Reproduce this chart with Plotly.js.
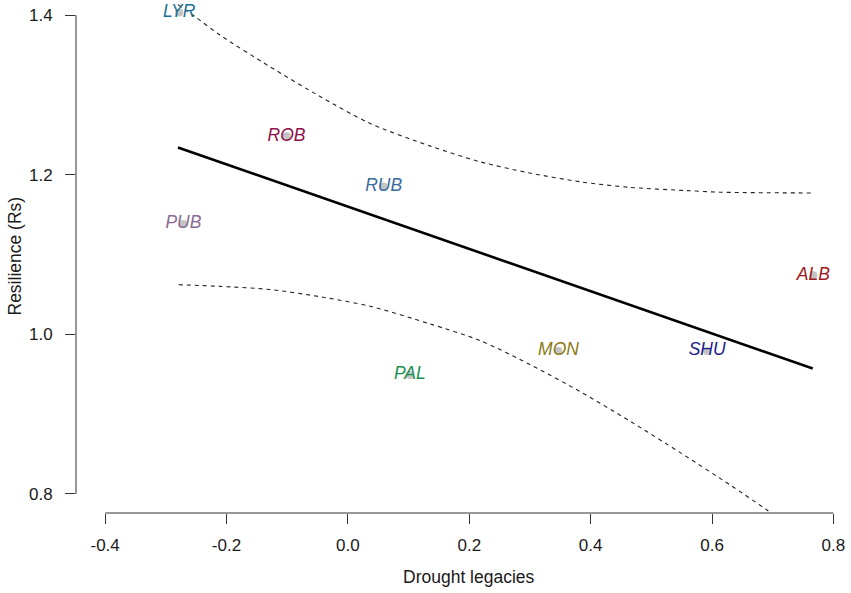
<!DOCTYPE html>
<html>
<head>
<meta charset="utf-8">
<script src="https://cdn.plot.ly/plotly-3.0.1.min.js"></script>
<style>
  html, body { margin: 0; padding: 0; background: #fff; }
  #myDiv { width: 851px; height: 593px; }
</style>
</head>
<body>
<div id="myDiv"></div>
<script>
// sites and their values
var sites = ['LYR', 'ROB', 'RUB', 'PUB', 'ALB', 'PAL', 'MON', 'SHU'];
var legacy = [-0.278, -0.101, 0.059, -0.271, 0.767, 0.102, 0.347, 0.592];
var resilience = [1.403, 1.248, 1.185, 1.138, 1.074, 0.949, 0.979, 0.979];
var siteColors = ['#1b6f96', '#8e1049', '#3a6b9e', '#8a6a92', '#9e1a1a', '#1a9050', '#8a7a10', '#1c1c8c'];

// fitted line
var fitX = [-0.280, 0.766];
var fitY = [1.234, 0.957];

// confidence band
var upperX = [-0.280, -0.252, -0.211, -0.128, -0.046, 0.037, 0.135, 0.218, 0.300, 0.383, 0.465, 0.558, 0.613, 0.766];
var upperY = [1.413, 1.398, 1.375, 1.335, 1.298, 1.264, 1.236, 1.216, 1.202, 1.191, 1.184, 1.180, 1.178, 1.177];
var lowerX = [-0.279, -0.211, -0.128, -0.046, 0.037, 0.135, 0.218, 0.300, 0.383, 0.465, 0.547, 0.630, 0.690, 0.766];
var lowerY = [1.062, 1.060, 1.056, 1.047, 1.035, 1.013, 0.992, 0.962, 0.928, 0.891, 0.852, 0.811, 0.780, 0.739];

var xTicks = [-0.4, -0.2, 0.0, 0.2, 0.4, 0.6, 0.8];
var yTicks = [0.8, 1.0, 1.2, 1.4];

var font = 'Liberation Sans, Arial, sans-serif';

var upper = {
    x: upperX, y: upperY, mode: 'lines', type: 'scatter',
    line: {color: '#222', width: 1.1, dash: '4px,4px', shape: 'spline', smoothing: 0.8},
    hoverinfo: 'skip'
};
var lower = {
    x: lowerX, y: lowerY, mode: 'lines', type: 'scatter',
    line: {color: '#222', width: 1.1, dash: '4px,4px', shape: 'spline', smoothing: 0.8},
    hoverinfo: 'skip'
};
var fit = {
    x: fitX, y: fitY, mode: 'lines', type: 'scatter',
    line: {color: '#000', width: 2.6}
};
var dots = {
    x: legacy, y: resilience, mode: 'markers', type: 'scatter',
    marker: {color: '#c4c4c4', size: 8},
    cliponaxis: false
};
var labels = {
    x: legacy, y: resilience, text: sites, mode: 'text', type: 'scatter',
    textposition: 'middle center',
    textfont: {family: font, size: 17.5, style: 'italic', color: siteColors},
    cliponaxis: false
};

var data = [upper, lower, fit, dots, labels];

var layout = {
    width: 851,
    height: 593,
    showlegend: false,
    margin: {l: 76, r: 0, t: 0, b: 80},
    paper_bgcolor: '#fff',
    plot_bgcolor: '#fff',
    font: {family: font, size: 17, color: '#1a1a1a'},
    xaxis: {
        range: [-0.448, 0.829],
        tickvals: xTicks,
        ticktext: xTicks.map(function (v) { return v.toFixed(1); }),
        ticks: 'outside', ticklen: 10, tickwidth: 1, tickcolor: '#333',
        showline: false, showgrid: false, zeroline: false,
        ticklabelstandoff: 7
    },
    yaxis: {
        range: [0.776, 1.4188],
        tickvals: yTicks,
        ticktext: yTicks.map(function (v) { return v.toFixed(1); }),
        ticks: 'outside', ticklen: 10, tickwidth: 1, tickcolor: '#333',
        showline: false, showgrid: false, zeroline: false,
        ticklabelstandoff: 9
    },
    shapes: [
        {type: 'line', xref: 'x', yref: 'paper', x0: xTicks[0], x1: xTicks[xTicks.length - 1], y0: 0, y1: 0,
         line: {color: '#333', width: 1}},
        {type: 'line', xref: 'paper', yref: 'y', x0: 0, x1: 0, y0: yTicks[0], y1: yTicks[yTicks.length - 1],
         line: {color: '#333', width: 1}}
    ],
    annotations: [
        {text: 'Drought legacies', xref: 'paper', yref: 'paper', x: 0.507, y: -0.125,
         xanchor: 'center', yanchor: 'middle', showarrow: false, font: {size: 17.5}},
        {text: 'Resilience (Rs)', xref: 'paper', yref: 'paper', x: -0.08, y: 0.5,
         xanchor: 'center', yanchor: 'middle', textangle: -90, showarrow: false, font: {size: 17.5}}
    ]
};

Plotly.newPlot('myDiv', data, layout, {displayModeBar: false});
</script>
</body>
</html>
